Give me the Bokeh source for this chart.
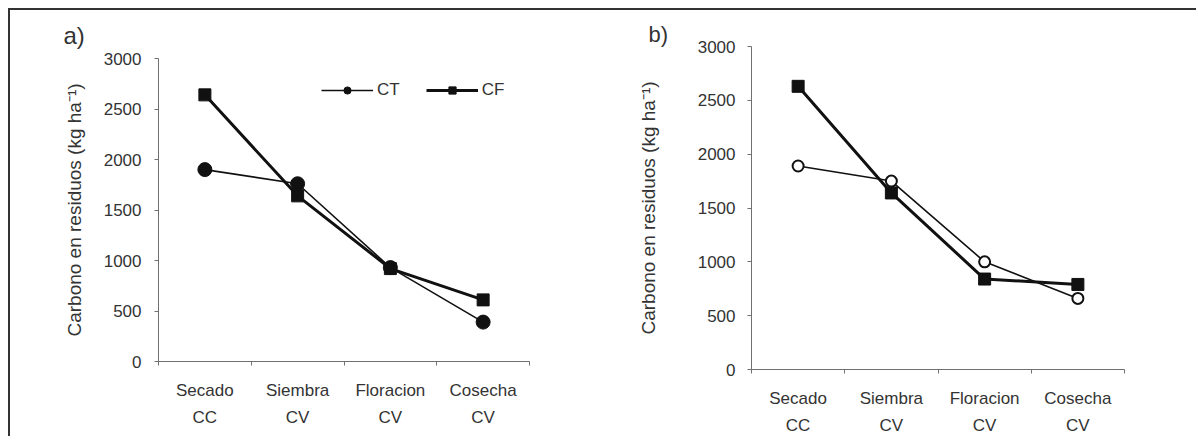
import math
from bokeh.plotting import figure
from bokeh.models import (Range1d, FixedTicker, Legend, LegendItem, Title,
                          ColumnDataSource)
from bokeh.embed import file_html
from bokeh.resources import INLINE

categories = ["Secado\nCC", "Siembra\nCV", "Floracion\nCV", "Cosecha\nCV"]
a_ct = [1900, 1760, 930, 390]
a_cf = [2640, 1640, 920, 610]
b_ct = [1890, 1750, 1000, 660]
b_cf = [2630, 1640, 840, 790]
y_ticks = [0, 500, 1000, 1500, 2000, 2500, 3000]
y_title = "Carbono en residuos (kg ha\u207b\u00b9)"

FONT = "Liberation Sans"
TXT = "#333333"
AX = "#707070"
INK = "#111111"
EDGE = "2px solid #333333"

x_pos = [i + 0.5 for i in range(len(categories))]
x_bounds = list(range(len(categories) + 1))


def make_panel(w, h, ml, mr, mt, mb, ystand, title_standoff, styles,
               letter, letter_size, letter_offset, letter_standoff):
    p = figure(width=w, height=h, output_backend="svg",
               toolbar_location=None, x_range=Range1d(0, len(categories)),
               y_range=Range1d(0, 3000),
               min_border_left=ml, min_border_right=mr,
               min_border_top=mt, min_border_bottom=mb)
    p.styles = styles
    p.outline_line_color = None
    p.xgrid.visible = False
    p.ygrid.visible = False

    xa = p.xaxis[0]
    xa.ticker = FixedTicker(ticks=x_pos, minor_ticks=x_bounds)
    xa.major_label_overrides = {x: c for x, c in zip(x_pos, categories)}
    xa.major_tick_out = 0
    xa.major_tick_in = 0
    xa.minor_tick_out = 4
    xa.minor_tick_in = 0
    xa.minor_tick_line_color = AX
    xa.axis_line_color = AX
    xa.major_label_text_font = FONT
    xa.major_label_text_font_size = "17px"
    xa.major_label_text_color = TXT
    xa.major_label_text_line_height = 1.45
    xa.major_label_standoff = 15

    ya = p.yaxis[0]
    ya.ticker = FixedTicker(ticks=y_ticks)
    ya.minor_tick_out = 0
    ya.minor_tick_in = 0
    ya.major_tick_out = 4
    ya.major_tick_in = 0
    ya.major_tick_line_color = AX
    ya.axis_line_color = AX
    ya.major_label_text_font = FONT
    ya.major_label_text_font_size = "17px"
    ya.major_label_text_color = TXT
    ya.major_label_standoff = ystand
    ya.axis_label = y_title
    ya.axis_label_text_font = FONT
    ya.axis_label_text_font_size = "19px"
    ya.axis_label_text_font_style = "normal"
    ya.axis_label_text_color = TXT
    ya.axis_label_standoff = title_standoff

    p.add_layout(Title(text=letter, align="left", offset=letter_offset,
                       standoff=letter_standoff, text_font=FONT,
                       text_font_size=letter_size, text_font_style="normal",
                       text_color=TXT), "above")
    return p


# Panel a: frame 371 x 303, frame left/top at page (158, 58)
pa = make_panel(588, 428, 148, 69, 48, 77, 13, 16,
                {"position": "absolute", "left": "8px", "top": "8px",
                 "border-top": EDGE, "border-left": EDGE},
                "a)", "24px", -95, 19)
src_a = ColumnDataSource(dict(x=x_pos, ct=a_ct, cf=a_cf))
pa.line("x", "cf", source=src_a, line_color=INK, line_width=3)
pa.scatter("x", "cf", source=src_a, marker="square", size=12,
           fill_color=INK, line_color=INK)
pa.line("x", "ct", source=src_a, line_color=INK, line_width=1.6)
pa.scatter("x", "ct", source=src_a, marker="circle", size=14,
           fill_color=INK, line_color=INK)

nan_src = ColumnDataSource(dict(x=[math.nan], y=[math.nan]))
lg_ct_l = pa.line("x", "y", source=nan_src, line_color=INK, line_width=1.6)
lg_ct_m = pa.scatter("x", "y", source=nan_src, marker="circle", size=9,
                     fill_color=INK, line_color=INK)
lg_cf_l = pa.line("x", "y", source=nan_src, line_color=INK, line_width=3)
lg_cf_m = pa.scatter("x", "y", source=nan_src, marker="square", size=10,
                     fill_color=INK, line_color=INK)
legend = Legend(items=[LegendItem(label="CT", renderers=[lg_ct_l, lg_ct_m]),
                       LegendItem(label="CF", renderers=[lg_cf_l, lg_cf_m])],
                orientation="horizontal", location=(163, 261),
                border_line_color=None, background_fill_alpha=0,
                glyph_width=52, glyph_height=18, label_standoff=4,
                spacing=26, padding=0, margin=0,
                label_text_font=FONT, label_text_font_size="17px",
                label_text_color=TXT)
pa.add_layout(legend)

# Panel b: frame 373 x 326, frame left/top at page (751, 46)
pb = make_panel(606, 428, 161, 72, 36, 66, 12, 36,
                {"position": "absolute", "left": "590px", "top": "8px",
                 "border-top": EDGE},
                "b)", "22px", -103, 0)
src_b = ColumnDataSource(dict(x=x_pos, ct=b_ct, cf=b_cf))
pb.line("x", "cf", source=src_b, line_color=INK, line_width=3)
pb.scatter("x", "cf", source=src_b, marker="square", size=12,
           fill_color=INK, line_color=INK)
pb.line("x", "ct", source=src_b, line_color=INK, line_width=1.6)
pb.scatter("x", "ct", source=src_b, marker="circle", size=11,
           fill_color="white", line_color=INK, line_width=2)

open("out.html", "w").write(file_html([pa, pb], INLINE))
